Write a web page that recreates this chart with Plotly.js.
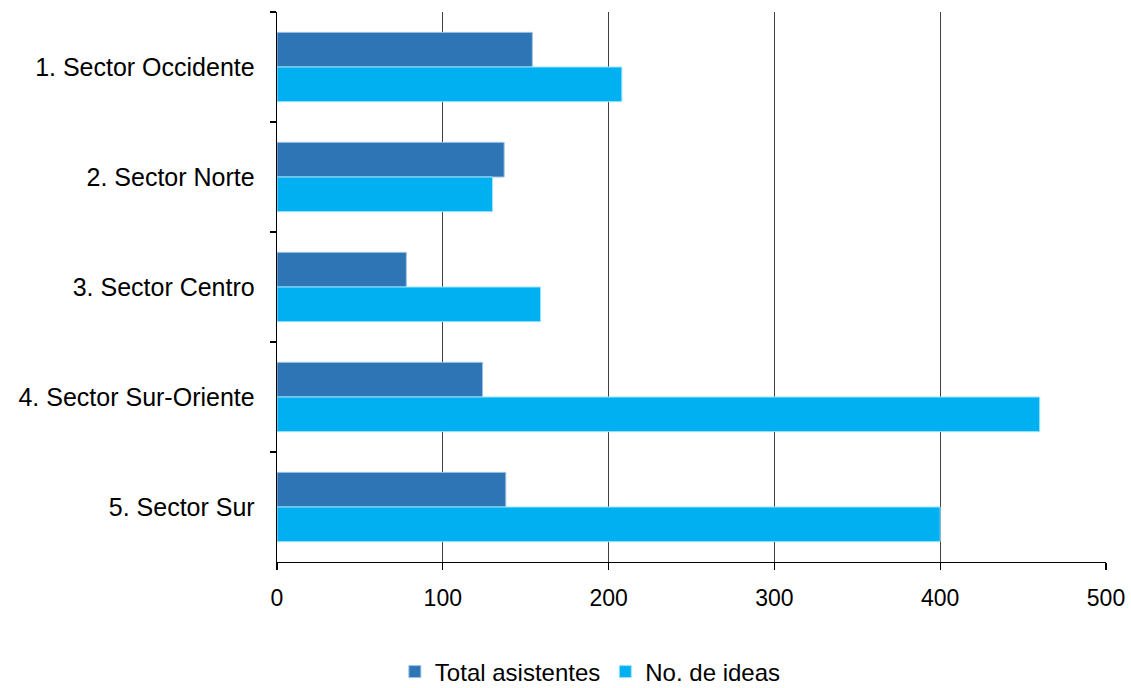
<!DOCTYPE html>
<html>
<head>
<meta charset="utf-8">
<script src="https://cdn.plot.ly/plotly-3.0.1.min.js"></script>
<style>html,body{margin:0;padding:0;background:#fff}#chart{width:1131px;height:688px}</style>
</head>
<body>
<div id="chart"></div>
<script>
var categories = ["1. Sector Occidente", "2. Sector Norte", "3. Sector Centro", "4. Sector Sur-Oriente", "5. Sector Sur"];
var totalAsistentes = [154, 137, 78, 124, 138];
var noIdeas = [208, 130, 159, 460, 400];
var xTicks = [0, 100, 200, 300, 400, 500];

var traces = [
  {type: "bar", orientation: "h", name: "Total asistentes", y: categories, x: totalAsistentes,
   marker: {color: "#2E75B6", line: {color: "#9DC3E6", width: 1}}},
  {type: "bar", orientation: "h", name: "No. de ideas", y: categories, x: noIdeas,
   marker: {color: "#00B0F0", line: {color: "#9FE3FB", width: 1}}}
];

var layout = {
  width: 1131, height: 688,
  margin: {l: 277, r: 25, t: 12, b: 126, autoexpand: false},
  paper_bgcolor: "#fff", plot_bgcolor: "#fff",
  font: {family: "Liberation Sans, Arial, sans-serif", size: 23, color: "#000"},
  barmode: "group", bargap: 0.37, bargroupgap: 0,
  showlegend: true,
  legend: {orientation: "h", x: 0.378, xanchor: "center", y: -0.2, yanchor: "middle",
           font: {size: 24}, itemwidth: 30, tracegroupgap: 0},
  xaxis: {range: [0, 500], tickvals: xTicks, ticktext: xTicks.map(String),
          showgrid: true, gridcolor: "#404040", gridwidth: 1.4,
          showline: true, linecolor: "#000", linewidth: 1.3,
          ticks: "outside", ticklen: 7, tickcolor: "#000", tickwidth: 1.3,
          tickfont: {size: 23}, ticklabelstandoff: 8,
          zeroline: false, fixedrange: true},
  yaxis: {type: "category", autorange: "reversed",
          showline: true, linecolor: "#000", linewidth: 1.3,
          ticks: "outside", tickson: "boundaries", ticklen: 6, tickcolor: "#000", tickwidth: 1.3,
          ticklabelstandoff: 16, tickfont: {size: 25},
          showgrid: false, zeroline: false, fixedrange: true}
};

Plotly.newPlot("chart", traces, layout, {displayModeBar: false, staticPlot: true});
</script>
</body>
</html>
